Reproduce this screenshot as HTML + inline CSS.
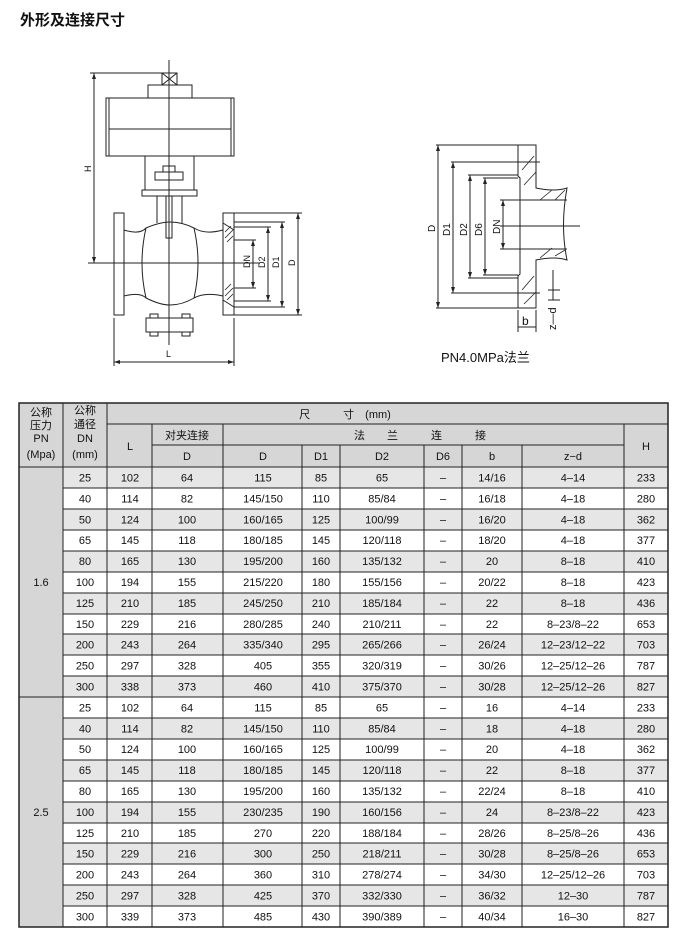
<!DOCTYPE html>
<html><head><meta charset="utf-8"><style>
body{margin:0;background:#fff}
svg text{font-family:"Liberation Sans","Noto Sans CJK SC",sans-serif;fill:#111}
</style></head><body>
<svg width="680" height="934" viewBox="0 0 680 934" xmlns="http://www.w3.org/2000/svg">
<text x="20" y="25" font-size="15" font-weight="bold">外形及连接尺寸</text>

<!-- left drawing -->
<g fill="none" stroke="#222" stroke-width="1">
<rect x="162" y="73" width="15" height="12"/><path d="M162 73L177 85M177 73L162 85"/>
<rect x="148" y="85" width="44" height="13"/>
<rect x="106" y="98" width="128" height="58"/>
<line x1="109" y1="98" x2="109" y2="156"/><line x1="231" y1="98" x2="231" y2="156"/>
<line x1="109" y1="129" x2="231" y2="129"/>
<path d="M145 156V190M194 156V190M142 190H197V196H142Z"/>
<rect x="155" y="172" width="28" height="8"/><rect x="163" y="166" width="12" height="6"/>
<path d="M157 196V223M182 196V223"/><rect x="166" y="196" width="6" height="42"/>
<rect x="114" y="213" width="10" height="102"/><rect x="223" y="213" width="11" height="102"/>
<path d="M124 230Q140 235 146 228Q160 222 170 222Q182 222 194 228Q205 235 223 230"/>
<path d="M124 296Q140 292 146 298Q160 305 170 305Q182 305 194 298Q205 292 223 296"/>
<path d="M146 228Q138 263 146 298M194 228Q202 263 194 298"/>
<rect x="146" y="318" width="47" height="14"/><rect x="150" y="314" width="8" height="4"/><rect x="182" y="314" width="8" height="4"/>
<rect x="150" y="332" width="8" height="4"/><rect x="182" y="332" width="8" height="4"/>
<path d="M223 223L234 230M223 300L234 307" />
<path d="M234 213H302M234 222H285M234 227H271M234 240H256M234 288H256M234 301H271M234 307H285M234 315H302"/>
<path d="M253 240V288M268 227V301M282 222V307M298 213V315"/>
<path d="M94 73V263M90 73H162M88 263H260"/>
<path d="M169 60V345"/>
<path d="M114 318V366M234 318V366M114 362H234"/>
</g>
<g fill="#222"><path d="M94 73l-2 6h4zM94 263l-2 -6h4zM114 362l6 -2v4zM234 362l-6 -2v4z"/>
<path d="M253 240l-2 6h4zM253 288l-2 -6h4zM268 227l-2 6h4zM268 301l-2 -6h4zM282 222l-2 6h4zM282 307l-2 -6h4zM298 213l-2 6h4zM298 315l-2 -6h4z"/></g>
<g font-size="9"><text transform="translate(91,172) rotate(-90)">H</text><text transform="translate(250,268) rotate(-90)">DN</text><text transform="translate(265,268) rotate(-90)">D2</text><text transform="translate(279,268) rotate(-90)">D1</text><text transform="translate(295,266) rotate(-90)">D</text><text x="166" y="357">L</text></g>
<!-- hatched right flange -->
<g stroke="#222" stroke-width="0.8"><path d="M225 232L231 226M225 238L233 230M227 242L233 236M225 290L231 284M225 296L233 288M227 300L233 294"/></g>

<!-- right drawing -->
<g fill="none" stroke="#222" stroke-width="1">
<path d="M518 145H536V188Q555 192 567 188Q560 226 567 260Q555 256 536 260V308H518V276L520 274V178L518 176Z"/>
<path d="M520 200H567M520 249H567M500 226H580"/>
<path d="M436 145H518M451 162H540M468 175H518M483 178H518M500 200H520M500 249H520M483 275H518M468 278H518M451 293H540M436 308H518"/>
<path d="M438 145V308M453 162V293M470 175V278M485 178V275M503 200V249"/>
<path d="M518 310V332M536 310V332M518 327H536M553 270V300M548 290H560M548 300H560"/>
</g>
<g fill="#222"><path d="M438 145l-2 6h4zM438 308l-2 -6h4zM453 162l-2 6h4zM453 293l-2 -6h4zM470 175l-2 6h4zM470 278l-2 -6h4zM485 178l-2 6h4zM485 275l-2 -6h4zM503 200l-2 6h4zM503 249l-2 -6h4z"/></g>
<g stroke="#222" stroke-width="0.8"><path d="M522 170L534 156M524 185L536 172M540 200L552 190M555 200L565 190M522 290L534 276M524 304L536 292M540 258L552 248M555 256L565 250"/></g>
<g font-size="10"><text transform="translate(435,232) rotate(-90)">D</text><text transform="translate(450,236) rotate(-90)">D1</text><text transform="translate(467,236) rotate(-90)">D2</text><text transform="translate(482,236) rotate(-90)">D6</text><text transform="translate(500,234) rotate(-90)">DN</text><text x="522" y="325" font-size="12">b</text><text transform="translate(556,330) rotate(-90)" font-size="11">z—d</text></g>
<text x="441" y="362" font-size="13">PN4.0MPa法兰</text>

<!-- table -->
<rect x="19" y="403" width="649" height="64" fill="#d6d6d6"/>
<rect x="19" y="467" width="44" height="460" fill="#d6d6d6"/>
<g fill="#e6e6e6">
<rect x="63" y="467" width="605" height="21"/><rect x="63" y="509" width="605" height="21"/><rect x="63" y="551" width="605" height="21"/><rect x="63" y="593" width="605" height="21"/><rect x="63" y="634" width="605" height="21"/><rect x="63" y="676" width="605" height="21"/>
<rect x="63" y="718" width="605" height="21"/><rect x="63" y="760" width="605" height="21"/><rect x="63" y="802" width="605" height="21"/><rect x="63" y="843" width="605" height="21"/><rect x="63" y="885" width="605" height="21"/>
</g>
<g stroke="#222" stroke-width="1" fill="none">
<rect x="19" y="403" width="649" height="524" stroke-width="1.5"/>
<path d="M107 424H668M152 445H624M19 467H668M19 697H668"/>
<path d="M63 403V927M107 403V927M152 424V927M223 424V927M302 445V927M340 445V927M424 445V927M462 445V927M522 445V927M624 424V927"/>
<path d="M63 488H668M63 509H668M63 530H668M63 551H668M63 572H668M63 593H668M63 614H668M63 634H668M63 655H668M63 676H668M63 718H668M63 739H668M63 760H668M63 781H668M63 802H668M63 823H668M63 843H668M63 864H668M63 885H668M63 906H668"/>
</g>
<g font-size="11" text-anchor="middle">
<text x="41" y="416">公称</text><text x="41" y="429">压力</text><text x="41" y="442">PN</text><text x="41" y="458">(Mpa)</text>
<text x="85" y="414">公称</text><text x="85" y="428">通径</text><text x="85" y="442">DN</text><text x="85" y="458">(mm)</text>
<text x="345" y="418">尺　　　寸　(mm)</text>
<text x="130" y="450">L</text><text x="187" y="439">对夹连接</text><text x="420" y="439">法　　兰　　　连　　　接</text><text x="646" y="450">H</text>
<text x="187" y="460">D</text><text x="263" y="460">D</text><text x="321" y="460">D1</text><text x="382" y="460">D2</text><text x="443" y="460">D6</text><text x="492" y="460">b</text><text x="573" y="460">z−d</text>
<text x="41" y="586">1.6</text><text x="41" y="816">2.5</text>
</g>
<g font-size="11" text-anchor="middle" id="rows">
<g transform="translate(0,481.5)">
<text x="85" y="0">25</text><text x="130">102</text><text x="187">64</text><text x="263">115</text><text x="321">85</text><text x="382">65</text><text x="443">–</text><text x="492">14/16</text><text x="573">4–14</text><text x="646">233</text></g>
<g transform="translate(0,502.4)"><text x="85">40</text><text x="130">114</text><text x="187">82</text><text x="263">145/150</text><text x="321">110</text><text x="382">85/84</text><text x="443">–</text><text x="492">16/18</text><text x="573">4–18</text><text x="646">280</text></g>
<g transform="translate(0,523.3)"><text x="85">50</text><text x="130">124</text><text x="187">100</text><text x="263">160/165</text><text x="321">125</text><text x="382">100/99</text><text x="443">–</text><text x="492">16/20</text><text x="573">4–18</text><text x="646">362</text></g>
<g transform="translate(0,544.2)"><text x="85">65</text><text x="130">145</text><text x="187">118</text><text x="263">180/185</text><text x="321">145</text><text x="382">120/118</text><text x="443">–</text><text x="492">18/20</text><text x="573">4–18</text><text x="646">377</text></g>
<g transform="translate(0,565.1)"><text x="85">80</text><text x="130">165</text><text x="187">130</text><text x="263">195/200</text><text x="321">160</text><text x="382">135/132</text><text x="443">–</text><text x="492">20</text><text x="573">8–18</text><text x="646">410</text></g>
<g transform="translate(0,586)"><text x="85">100</text><text x="130">194</text><text x="187">155</text><text x="263">215/220</text><text x="321">180</text><text x="382">155/156</text><text x="443">–</text><text x="492">20/22</text><text x="573">8–18</text><text x="646">423</text></g>
<g transform="translate(0,606.9)"><text x="85">125</text><text x="130">210</text><text x="187">185</text><text x="263">245/250</text><text x="321">210</text><text x="382">185/184</text><text x="443">–</text><text x="492">22</text><text x="573">8–18</text><text x="646">436</text></g>
<g transform="translate(0,627.8)"><text x="85">150</text><text x="130">229</text><text x="187">216</text><text x="263">280/285</text><text x="321">240</text><text x="382">210/211</text><text x="443">–</text><text x="492">22</text><text x="573">8–23/8–22</text><text x="646">653</text></g>
<g transform="translate(0,648.7)"><text x="85">200</text><text x="130">243</text><text x="187">264</text><text x="263">335/340</text><text x="321">295</text><text x="382">265/266</text><text x="443">–</text><text x="492">26/24</text><text x="573">12–23/12–22</text><text x="646">703</text></g>
<g transform="translate(0,669.6)"><text x="85">250</text><text x="130">297</text><text x="187">328</text><text x="263">405</text><text x="321">355</text><text x="382">320/319</text><text x="443">–</text><text x="492">30/26</text><text x="573">12–25/12–26</text><text x="646">787</text></g>
<g transform="translate(0,690.5)"><text x="85">300</text><text x="130">338</text><text x="187">373</text><text x="263">460</text><text x="321">410</text><text x="382">375/370</text><text x="443">–</text><text x="492">30/28</text><text x="573">12–25/12–26</text><text x="646">827</text></g>
<g transform="translate(0,711.4)"><text x="85">25</text><text x="130">102</text><text x="187">64</text><text x="263">115</text><text x="321">85</text><text x="382">65</text><text x="443">–</text><text x="492">16</text><text x="573">4–14</text><text x="646">233</text></g>
<g transform="translate(0,732.3)"><text x="85">40</text><text x="130">114</text><text x="187">82</text><text x="263">145/150</text><text x="321">110</text><text x="382">85/84</text><text x="443">–</text><text x="492">18</text><text x="573">4–18</text><text x="646">280</text></g>
<g transform="translate(0,753.2)"><text x="85">50</text><text x="130">124</text><text x="187">100</text><text x="263">160/165</text><text x="321">125</text><text x="382">100/99</text><text x="443">–</text><text x="492">20</text><text x="573">4–18</text><text x="646">362</text></g>
<g transform="translate(0,774.1)"><text x="85">65</text><text x="130">145</text><text x="187">118</text><text x="263">180/185</text><text x="321">145</text><text x="382">120/118</text><text x="443">–</text><text x="492">22</text><text x="573">8–18</text><text x="646">377</text></g>
<g transform="translate(0,795)"><text x="85">80</text><text x="130">165</text><text x="187">130</text><text x="263">195/200</text><text x="321">160</text><text x="382">135/132</text><text x="443">–</text><text x="492">22/24</text><text x="573">8–18</text><text x="646">410</text></g>
<g transform="translate(0,815.9)"><text x="85">100</text><text x="130">194</text><text x="187">155</text><text x="263">230/235</text><text x="321">190</text><text x="382">160/156</text><text x="443">–</text><text x="492">24</text><text x="573">8–23/8–22</text><text x="646">423</text></g>
<g transform="translate(0,836.8)"><text x="85">125</text><text x="130">210</text><text x="187">185</text><text x="263">270</text><text x="321">220</text><text x="382">188/184</text><text x="443">–</text><text x="492">28/26</text><text x="573">8–25/8–26</text><text x="646">436</text></g>
<g transform="translate(0,857.7)"><text x="85">150</text><text x="130">229</text><text x="187">216</text><text x="263">300</text><text x="321">250</text><text x="382">218/211</text><text x="443">–</text><text x="492">30/28</text><text x="573">8–25/8–26</text><text x="646">653</text></g>
<g transform="translate(0,878.6)"><text x="85">200</text><text x="130">243</text><text x="187">264</text><text x="263">360</text><text x="321">310</text><text x="382">278/274</text><text x="443">–</text><text x="492">34/30</text><text x="573">12–25/12–26</text><text x="646">703</text></g>
<g transform="translate(0,899.5)"><text x="85">250</text><text x="130">297</text><text x="187">328</text><text x="263">425</text><text x="321">370</text><text x="382">332/330</text><text x="443">–</text><text x="492">36/32</text><text x="573">12–30</text><text x="646">787</text></g>
<g transform="translate(0,920.4)"><text x="85">300</text><text x="130">339</text><text x="187">373</text><text x="263">485</text><text x="321">430</text><text x="382">390/389</text><text x="443">–</text><text x="492">40/34</text><text x="573">16–30</text><text x="646">827</text></g>
</g>
</svg>
</body></html>
